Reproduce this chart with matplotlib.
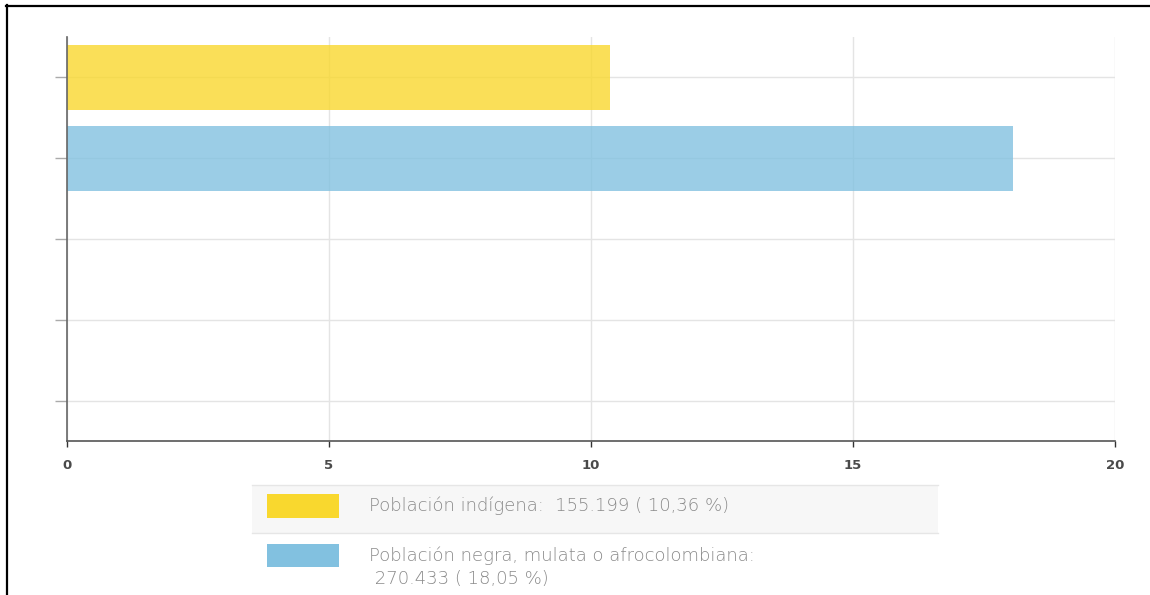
import matplotlib.pyplot as plt
from matplotlib.patches import Rectangle
from matplotlib.lines import Line2D

# data
groups = ["Población indígena", "Población negra, mulata o afrocolombiana"]
counts = ["155.199", "270.433"]
percents = [10.36, 18.05]
slots = 5  # the chart keeps five bar slots, only two are used
colors = ["#F9D82E", "#82C1E0"]
xticks = [0, 5, 10, 15, 20]

W, H = 1150, 595
fig = plt.figure(figsize=(W / 100, H / 100), dpi=100)

def fx(px):
    return px / W

def fy(py):
    return 1 - py / H

ax = fig.add_axes([fx(67), fy(441), fx(1115) - fx(67), fy(37) - fy(441)])

ax.barh(range(len(percents)), percents, height=0.8, color=colors, alpha=0.8,
        edgecolor="none", zorder=2)
ax.set_ylim(slots - 0.5, -0.5)
ax.set_xlim(0, 20)
ax.set_yticks(range(slots))
ax.set_yticklabels([""] * slots)
ax.set_xticks(xticks)
ax.set_xticklabels([str(t) for t in xticks], fontfamily="DejaVu Sans",
                   fontweight="bold", fontsize=9.5, color="#4a4a4a")
ax.grid(True, color="#e4e4e4", linewidth=1, zorder=0)
ax.tick_params(axis="y", length=8.5, color="#aaaaaa", width=1)
ax.tick_params(axis="x", length=4, color="#333333", width=1, pad=9)
for s in ["top", "right"]:
    ax.spines[s].set_visible(False)
ax.spines["left"].set_color("#666666")
ax.spines["bottom"].set_color("#555555")
ax.spines["left"].set_linewidth(1.2)
ax.spines["bottom"].set_linewidth(1.2)

# legend drawn by hand
fig.patches.append(Rectangle((fx(252), fy(533)), fx(938) - fx(252), fy(485) - fy(533),
                             transform=fig.transFigure, facecolor="#f7f7f7",
                             edgecolor="none"))
for yy in [485, 533]:
    fig.lines.append(Line2D([fx(252), fx(938)], [fy(yy), fy(yy)],
                            transform=fig.transFigure, color="#e6e6e6", lw=1))
fig.patches.append(Rectangle((fx(267), fy(518)), fx(72), fy(494) - fy(518),
                             transform=fig.transFigure, facecolor=colors[0],
                             edgecolor="none"))
fig.patches.append(Rectangle((fx(267), fy(567)), fx(72), fy(544) - fy(567),
                             transform=fig.transFigure, facecolor=colors[1],
                             edgecolor="none"))

def pct(v):
    return f"{v:.2f}".replace(".", ",")

txt = dict(fontfamily="DejaVu Sans", fontweight="light", fontsize=13,
           color="#8a8a8a", va="center", ha="left")
fig.text(fx(369), fy(506), f"{groups[0]}:  {counts[0]} ( {pct(percents[0])} %)", **txt)
fig.text(fx(369), fy(556), f"{groups[1]}:", **txt)
fig.text(fx(369), fy(579), f" {counts[1]} ( {pct(percents[1])} %)", **txt)

# outer frame (top and left)
fig.lines.append(Line2D([fx(6), 1], [fy(5.5), fy(5.5)], transform=fig.transFigure,
                        color="black", lw=1.6))
fig.lines.append(Line2D([fx(6.5), fx(6.5)], [fy(5), 0], transform=fig.transFigure,
                        color="black", lw=1.6))

fig.savefig("out.png", dpi=100)
